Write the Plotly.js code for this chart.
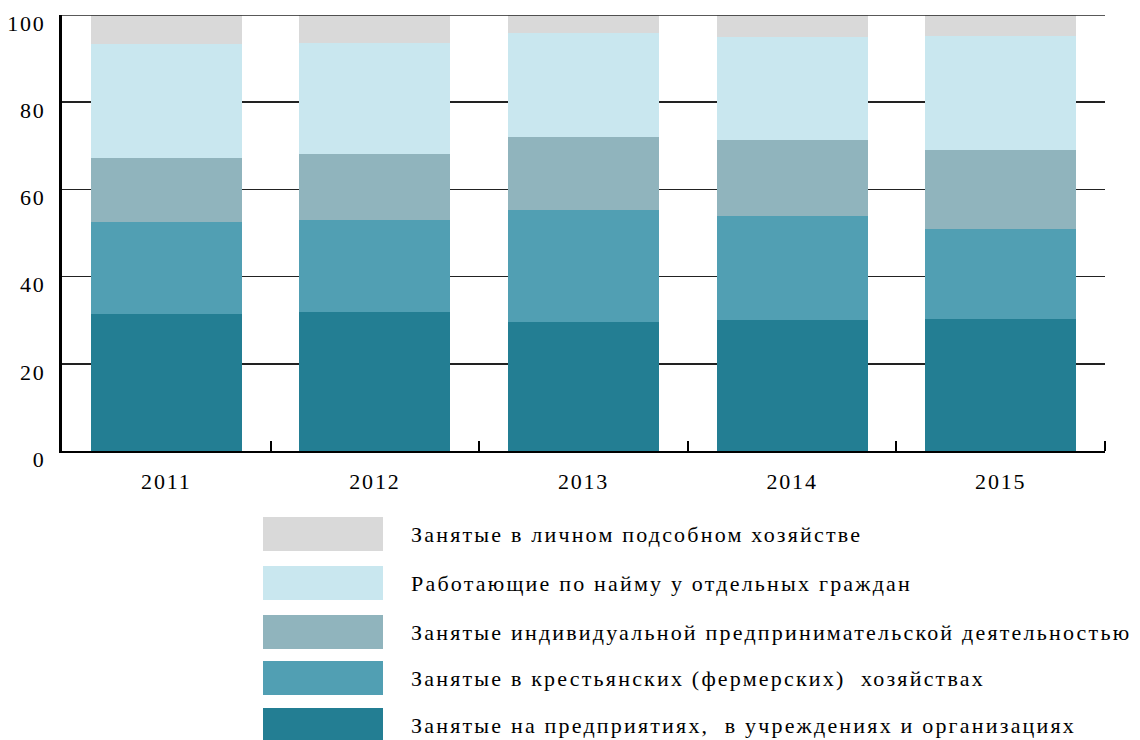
<!DOCTYPE html>
<html>
<head>
<meta charset="utf-8">
<script src="https://cdn.plot.ly/plotly-3.0.1.min.js"></script>
<style>
  body { margin: 0; padding: 0; background: #fff; }
  #chart { width: 1140px; height: 740px; }
  #chart text { letter-spacing: 1.8px; }
  #chart .annotation-text { letter-spacing: 2.2px; }
</style>
</head>
<body>
<div id="chart"></div>
<script>
const years = ['2011', '2012', '2013', '2014', '2015'];
const enterprises = [31.4, 31.8, 29.5, 30.0, 30.2];
const farms = [21.2, 21.1, 25.7, 24.0, 20.8];
const entrepreneurs = [14.7, 15.3, 16.9, 17.4, 18.1];
const hired = [26.1, 25.4, 23.8, 23.6, 26.1];
const personal = [6.6, 6.4, 4.1, 5.0, 4.8];
const seriesNames = [
  'Занятые на предприятиях,  в учреждениях и организациях',
  'Занятые в крестьянских (фермерских)  хозяйствах',
  'Занятые индивидуальной предпринимательской деятельностью',
  'Работающие по найму у отдельных граждан',
  'Занятые в личном подсобном хозяйстве'
];
const seriesValues = [enterprises, farms, entrepreneurs, hired, personal];
const colors = ['#237e93', '#519fb3', '#90b4bd', '#c9e7ef', '#d9d9d9'];
const yTicks = [0, 20, 40, 60, 80, 100];
const FONT = 'Liberation Serif, Times New Roman, serif';

const traces = seriesValues.map((vals, i) => ({
  type: 'bar', x: years, y: vals, name: seriesNames[i],
  marker: { color: colors[i], line: { width: 0 } },
  hoverinfo: 'skip', showlegend: false
}));

// plot area in pixels
const L = 62, R = 1105, T = 15, B = 451;
const px = x => (x - L) / (R - L);
const py = y => (B - y) / (B - T);

const shapes = [
  { type: 'line', xref: 'paper', yref: 'y', x0: 0, x1: 1, y0: 100, y1: 100,
    line: { color: '#222', width: 1.5 } },
  { type: 'line', xref: 'paper', yref: 'paper', x0: 1, x1: 1, y0: 0, y1: 10 / (B - T),
    line: { color: '#000', width: 2 } }
];
const annotations = [];
const legendCenters = [534, 583, 632, 678, 725];
for (let k = 0; k < 5; k++) {
  const i = 4 - k;
  const c = legendCenters[k];
  shapes.push({
    type: 'rect', xref: 'paper', yref: 'paper',
    x0: px(263), x1: px(383), y0: py(c + 17), y1: py(c - 17),
    fillcolor: colors[i], line: { width: 0 }
  });
  annotations.push({
    xref: 'paper', yref: 'paper', x: px(409), y: py(c),
    xanchor: 'left', yanchor: 'middle', align: 'left', showarrow: false,
    text: seriesNames[i].replace(/  /g, '&nbsp; '),
    font: { family: FONT, size: 22, color: '#000' }
  });
}

const layout = {
  width: 1140, height: 740,
  margin: { l: L, r: 1140 - R, t: T, b: 740 - B },
  paper_bgcolor: '#fff', plot_bgcolor: '#fff',
  barmode: 'stack', bargap: 0.276,
  font: { family: FONT, size: 22, color: '#000' },
  xaxis: {
    type: 'category', showgrid: false, zeroline: false,
    showline: true, linecolor: '#000', linewidth: 2,
    ticks: 'inside', tickson: 'boundaries', ticklen: 10, tickwidth: 2, tickcolor: '#000',
    ticklabelstandoff: 10,
    tickfont: { family: FONT, size: 22, color: '#000' }
  },
  yaxis: {
    range: [0, 100], tickvals: yTicks, ticktext: yTicks.map(String),
    showgrid: true, gridcolor: '#222', gridwidth: 1.5, zeroline: false,
    showline: true, linecolor: '#000', linewidth: 3,
    ticks: '', ticklabelstandoff: 9, ticklabelshift: 8,
    tickfont: { family: FONT, size: 22, color: '#000' }
  },
  shapes: shapes,
  annotations: annotations
};

Plotly.newPlot('chart', traces, layout, { displayModeBar: false, staticPlot: true });
</script>
</body>
</html>
